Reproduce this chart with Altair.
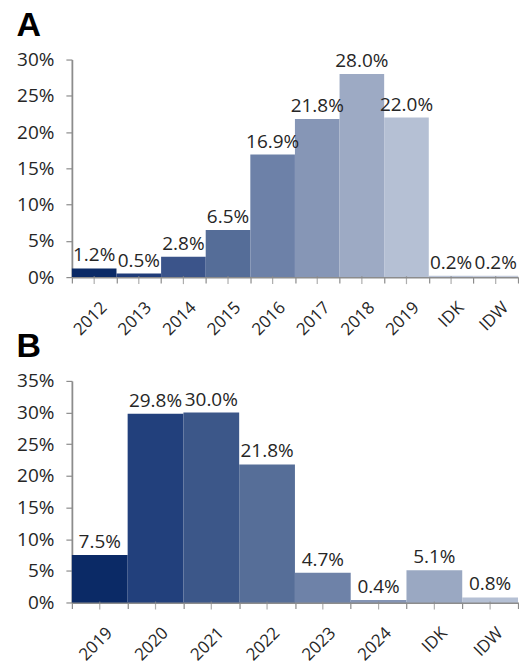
import altair as alt
import pandas as pd

# Panel A
cats_a = ["2012", "2013", "2014", "2015", "2016", "2017", "2018", "2019", "IDK", "IDW"]
vals_a = [1.2, 0.5, 2.8, 6.5, 16.9, 21.8, 28.0, 22.0, 0.2, 0.2]
colors_a = ["#0b2a66", "#203c78", "#3b548a", "#556d98", "#6d81a8",
            "#8696b6", "#9daac4", "#b5c0d4", "#bcc5d8", "#c4cbdb"]
yticks_a = [0, 5, 10, 15, 20, 25, 30]

# Panel B
cats_b = ["2019", "2020", "2021", "2022", "2023", "2024", "IDK", "IDW"]
vals_b = [7.5, 29.8, 30.0, 21.8, 4.7, 0.4, 5.1, 0.8]
colors_b = ["#0b2a66", "#22407c", "#3c5789", "#566e98", "#6e82a8",
            "#8494b4", "#9aa8c2", "#b5c0d4"]
yticks_b = [0, 5, 10, 15, 20, 25, 30, 35]

FONT = "Open Sans"
AXIS_GRAY = "#8c8c8c"
TEXT = "#262626"


def panel(cats, vals, colors, yticks, title, height):
    df = pd.DataFrame({
        "cat": cats,
        "val": vals,
        "color": colors,
        "label": [f"{v:.1f}%" for v in vals],
    })
    xaxis = alt.Axis(
        title=None, labelAngle=-45, labelAlign="right", labelBaseline="top",
        tickBand="extent", tickSize=6, tickColor=AXIS_GRAY, tickWidth=1.2,
        domainColor=AXIS_GRAY, domainWidth=1.8, labelPadding=16,
        labelOffset=4,
        labelFont=FONT, labelFontSize=17, labelColor=TEXT,
        labelOverlap=False,
    )
    yaxis = alt.Axis(
        title=None, values=yticks, labelExpr="datum.value + '%'",
        grid=False, tickSize=6, tickColor=AXIS_GRAY, tickWidth=1.2,
        domainColor=AXIS_GRAY, domainWidth=1.8, labelPadding=12,
        labelFont=FONT, labelFontSize=19, labelColor=TEXT,
        labelOverlap=False,
    )
    xscale = alt.Scale(paddingInner=0, paddingOuter=0)
    yscale = alt.Scale(domain=[yticks[0], yticks[-1]], nice=False)
    xenc = alt.X("cat:N", sort=cats, scale=xscale, axis=xaxis)
    yenc = alt.Y("val:Q", scale=yscale, axis=yaxis)

    base = alt.Chart(df)
    bars = base.mark_bar(strokeWidth=0).encode(
        x=xenc, y=yenc, color=alt.Color("color:N", scale=None)
    )
    ticks = base.mark_tick(
        orient="vertical", size=8, thickness=1.2, color=AXIS_GRAY, yOffset=3
    ).encode(x=xenc, y=alt.Y(datum=0, scale=yscale, axis=yaxis))
    text = base.mark_text(
        baseline="alphabetic", dy=-7, font=FONT, fontSize=19, color=TEXT
    ).encode(x=xenc, y=yenc, text="label:N")
    return alt.layer(bars, ticks, text).properties(
        width=447, height=height,
        title=alt.Title(title, anchor="start", frame="bounds", fontSize=34,
                        fontWeight="bold", font="Liberation Sans",
                        color="#000000", offset=8),
    )


pa = panel(cats_a, vals_a, colors_a, yticks_a, "A", 218)
pb = panel(cats_b, vals_b, colors_b, yticks_b, "B", 222)

chart = alt.vconcat(pa, pb, spacing=-8).properties(
    padding={"left": 8, "top": 0, "right": 0, "bottom": 0}
).configure_view(stroke=None)

chart.save("out.html", embed_options={"renderer": "svg", "actions": False})
